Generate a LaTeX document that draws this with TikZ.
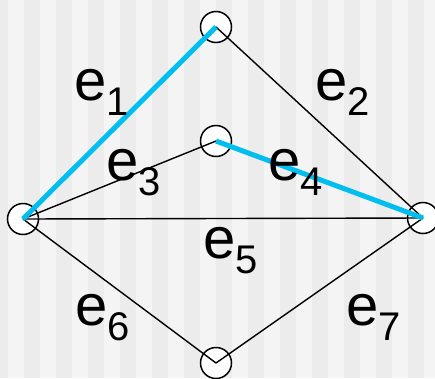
\documentclass[tikz,border=0pt]{standalone}
\usepackage{fontspec}
\setmainfont{Liberation Sans}
\usepackage{xcolor}
\definecolor{stripedark}{RGB}{236,236,236}
\definecolor{stripelight}{RGB}{244,244,244}
\definecolor{pathblue}{RGB}{0,190,240}
\newcommand{\elabel}[1]{{\fontsize{58}{58}\selectfont e}\raisebox{-15pt}{\fontsize{40}{40}\selectfont #1}}
\tikzset{
  vertex/.style={circle,draw=black,fill=white,line width=1.5pt,minimum size=31pt,inner sep=0pt},
  edge/.style={black,line width=1.4pt},
  pathedge/.style={pathblue,line width=5pt},
  elab/.style={anchor=base west,inner sep=0pt}
}
\begin{document}
\begin{tikzpicture}[x=1pt,y=-1pt]
\useasboundingbox (0,0) rectangle (435,378);
\fill[stripelight] (0,0) rectangle (435,378);
\foreach \k in {0,...,14}
  \fill[stripedark] (32*\k-8,0) rectangle (32*\k+8,378);
\node[vertex] (top) at (216,27) {};
\node[vertex] (mid) at (216,141) {};
\node[vertex] (lft) at (23,219) {};
\node[vertex] (rgt) at (423,218) {};
\node[vertex] (bot) at (216,363) {};
\draw[edge] (top.center) -- (rgt.center);
\draw[edge] (lft.center) -- (mid.center);
\draw[edge] (lft.center) -- (rgt.center);
\draw[edge] (lft.center) -- (bot.center);
\draw[edge] (bot.center) -- (rgt.center);
\draw[pathedge] (lft.center) -- (top.center);
\draw[pathedge] (mid.center) -- (rgt.center);
\node[elab] (l1) at (74,100) {\elabel{1}};
\node[elab] (l2) at (315,100) {\elabel{2}};
\node[elab] (l3) at (106,180) {\elabel{3}};
\node[elab] (l4) at (268,180) {\elabel{4}};
\node[elab] (l5) at (203,258) {\elabel{5}};
\node[elab] (l6) at (75,325) {\elabel{6}};
\node[elab] (l7) at (346,325) {\elabel{7}};
\end{tikzpicture}
\end{document}
